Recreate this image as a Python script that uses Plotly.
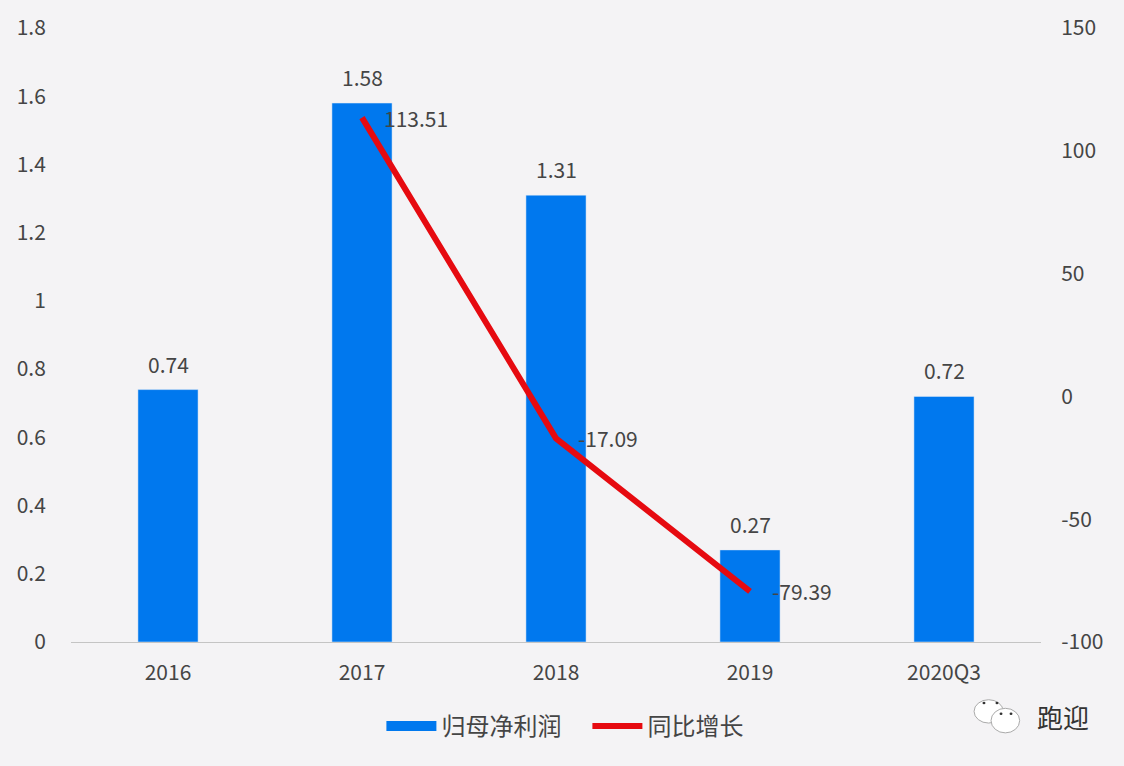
import plotly.graph_objects as go

# data
periods = ["2016", "2017", "2018", "2019", "2020Q3"]
net_profit = [0.74, 1.58, 1.31, 0.27, 0.72]
yoy_periods = ["2017", "2018", "2019"]
yoy_growth = [113.51, -17.09, -79.39]
left_ticks = [0, 0.2, 0.4, 0.6, 0.8, 1, 1.2, 1.4, 1.6, 1.8]
right_ticks = [-100, -50, 0, 50, 100, 150]

text_color = "#454545"
bg_color = "#F4F3F5"
font_name = "Noto Sans CJK SC"
bar_color = "#0078EE"
line_color = "#E60A10"

fig = go.Figure()
fig.add_trace(go.Bar(x=periods, y=net_profit, width=0.31, marker_color=bar_color,
                     showlegend=False))
# the bar legend key is too small in plotly, so use a thick empty line for the key
fig.add_trace(go.Scatter(x=[None], y=[None], name="归母净利润", mode="lines",
                         line=dict(color=bar_color, width=14)))
fig.add_trace(go.Scatter(x=yoy_periods, y=yoy_growth, name="同比增长", mode="lines",
                         yaxis="y2", line=dict(color=line_color, width=6)))

# value labels, offset from the marks like in the original
# on a category axis annotations take the category index, "2016" would mean index 2016
for p, v in zip(periods, net_profit):
    fig.add_annotation(x=periods.index(p), y=v, text=str(v), showarrow=False, yanchor="bottom",
                       yshift=9, font=dict(size=21))
for p, v in zip(yoy_periods, yoy_growth):
    fig.add_annotation(x=periods.index(p), y=v, yref="y2", text=str(v), showarrow=False,
                       xanchor="left", xshift=20, font=dict(size=21))

fig.update_layout(
    width=1124, height=766, margin=dict(l=71, r=83, t=28, b=124),
    paper_bgcolor=bg_color, plot_bgcolor=bg_color,
    font=dict(family=font_name, size=21, color=text_color),
    xaxis=dict(type="category", categoryorder="array", categoryarray=periods, showline=True,
               linecolor="#C4C4C4", showgrid=False, ticks="outside", ticklen=12,
               tickcolor="rgba(0,0,0,0)"),
    yaxis=dict(range=[0, 1.8], tickvals=left_ticks, ticktext=[str(t) for t in left_ticks],
               showgrid=False, zeroline=False, ticks="outside", ticklen=20,
               tickcolor="rgba(0,0,0,0)"),
    yaxis2=dict(range=[-100, 150], tickvals=right_ticks, ticktext=[str(t) for t in right_ticks],
                overlaying="y", side="right", showgrid=False, zeroline=False,
                ticks="outside", ticklen=15, tickcolor="rgba(0,0,0,0)"),
    legend=dict(orientation="h", x=0.32, xanchor="left", y=-0.101, yanchor="top",
                itemwidth=50, entrywidth=141, font=dict(size=24)),
)

# watermark in the lower right corner: two bubbles with eyes, then the name
for x0, x1, y0, y1 in [(0.931, 0.961, -0.132, -0.094), (0.9485, 0.978, -0.148, -0.108)]:
    fig.add_shape(type="circle", xref="paper", yref="paper", x0=x0, x1=x1, y0=y0, y1=y1,
                  fillcolor="white", line=dict(color="#AAAAAA", width=1))
for ex, ey in [(0.9412, -0.0992), (0.9546, -0.0992), (0.9588, -0.117), (0.9691, -0.117)]:
    fig.add_shape(type="circle", xref="paper", yref="paper", x0=ex - 0.0015, x1=ex + 0.0015,
                  y0=ey - 0.002, y1=ey + 0.002, fillcolor="#333333", line=dict(width=0))
fig.add_annotation(text="跑迎", xref="paper", yref="paper", x=1.0226, y=-0.122, showarrow=False,
                   xanchor="center", yanchor="middle", font=dict(size=26, color="#333333"))

fig.write_html("out.html", config={"displayModeBar": False},
               post_script="document.body.style.margin='0';")
